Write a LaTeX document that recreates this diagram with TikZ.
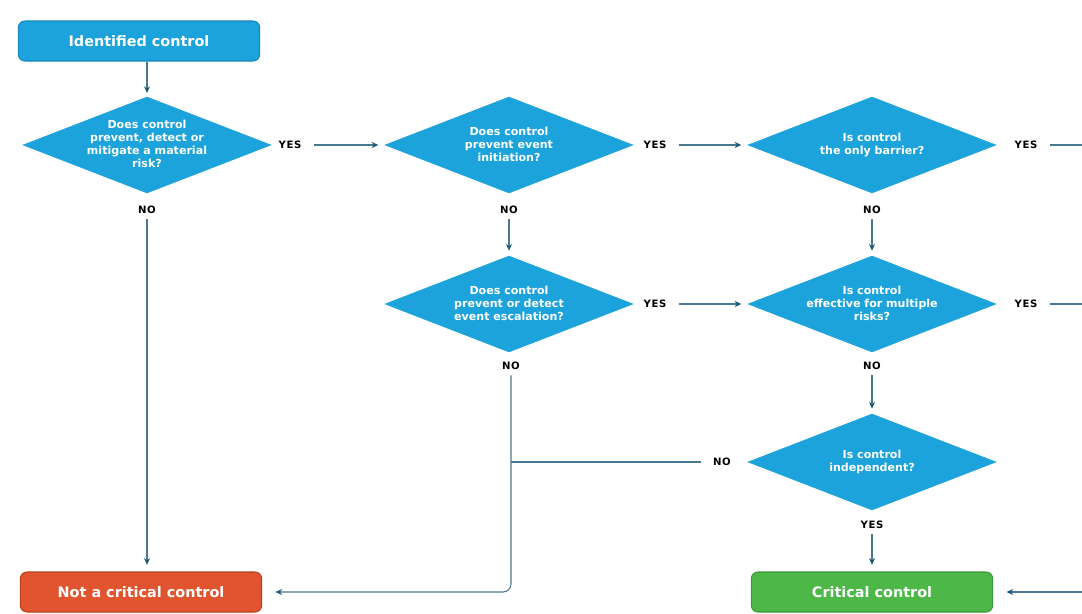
\documentclass[tikz,border=0pt]{standalone}
\usepackage{fontspec}
\setmainfont{DejaVu Sans}
\newfontfamily\lblfont[LetterSpace=6]{DejaVu Sans}
\usetikzlibrary{shapes.geometric,arrows.meta}
\definecolor{qblue}{HTML}{1CA3DC}
\definecolor{qblueD}{HTML}{1787BC}
\definecolor{qred}{HTML}{E0552F}
\definecolor{qredD}{HTML}{B9411F}
\definecolor{qgreen}{HTML}{4DB848}
\definecolor{qgreenD}{HTML}{3A9A37}
\definecolor{lineC}{HTML}{4A7891}
\definecolor{tipC}{HTML}{1E5A78}
\newcommand{\dtext}[1]{\makebox[0pt]{\smash{\raisebox{-2.5pt}{\begin{tabular}{@{}c@{}}#1\end{tabular}}}}}
\begin{document}
\begin{tikzpicture}[x=0.75pt,y=-0.75pt,
  dec/.style={diamond, fill=qblue, draw=qblue, line width=0.3pt, inner sep=0pt, outer sep=0pt,
    minimum width=186pt, minimum height=72pt, text=white,
    font=\bfseries\fontsize{8.3}{9.8}\selectfont},
  box/.style={rounded corners=5pt, minimum width=181pt, minimum height=30pt, text=white,
    font=\bfseries\fontsize{10.8}{12}\selectfont, line width=0.8pt},
  lbl/.style={font=\lblfont\bfseries\fontsize{7.6}{8}\selectfont, text=black, inner sep=1pt},
  conn/.style={draw=lineC, line width=0.8pt},
  arr/.style={conn, -{Stealth[length=5pt,width=4.5pt,color=tipC]}}]
\clip (0,0) rectangle (1082,614);
\fill[white] (0,0) rectangle (1082,614);
% nodes
\node[box, fill=qblue, draw=qblueD] (ic) at (139,41) {Identified control};
\node[dec] (d1) at (147,145) {\dtext{Does control\\prevent, detect or\\mitigate a material\\risk?}};
\node[dec] (d2) at (509,145) {\dtext{Does control\\prevent event\\initiation?}};
\node[dec] (d3) at (872,145) {\dtext{Is control\\the only barrier?}};
\node[dec] (d4) at (509,304) {\dtext{Does control\\prevent or detect\\event escalation?}};
\node[dec] (d5) at (872,304) {\dtext{Is control\\effective for multiple\\risks?}};
\node[dec] (d6) at (872,462) {\dtext{Is control\\independent?}};
\node[box, fill=qred, draw=qredD] (ncc) at (141,592) {Not a critical control};
\node[box, fill=qgreen, draw=qgreenD] (cc) at (872,592) {Critical control};
% labels
\node[lbl] (y1) at (290,145) {YES};
\node[lbl] (y2) at (655,145) {YES};
\node[lbl] (y3) at (1026,145) {YES};
\node[lbl] (y4) at (655,304) {YES};
\node[lbl] (y5) at (1026,304) {YES};
\node[lbl] (y6) at (872,525) {YES};
\node[lbl] (n1) at (147,210) {NO};
\node[lbl] (n2) at (509,210) {NO};
\node[lbl] (n3) at (872,210) {NO};
\node[lbl] (n4) at (511,366) {NO};
\node[lbl] (n5) at (872,366) {NO};
\node[lbl] (n6) at (722,462) {NO};
\coordinate (r1) at (1095,145);
\coordinate (r2) at (1095,304);
\coordinate (r3) at (1095,592);
% connectors
\draw[arr, shorten >=3pt] (ic.south -| d1.north) -- (d1.north);
\draw[arr, shorten <=8pt, shorten >=5pt] (y1.east) -- (d2.west);
\draw[arr, shorten <=8pt, shorten >=5pt] (y2.east) -- (d3.west);
\draw[arr, shorten <=8pt, shorten >=5pt] (y4.east) -- (d5.west);
\draw[conn, shorten <=8pt] (y3.east) -- (r1) -- (r3);
\draw[conn, shorten <=8pt] (y5.east) -- (r2);
\draw[arr, shorten >=10pt] (r3) -- (cc.east);
\draw[arr, shorten <=3pt, shorten >=5pt] (n1.south) -- (ncc.north -| n1.south);
\draw[arr, shorten <=3pt, shorten >=4pt] (n2.south) -- (d4.north);
\draw[arr, shorten <=3pt, shorten >=4pt] (n3.south) -- (d5.north);
\draw[arr, shorten <=3pt, shorten >=4pt] (n5.south) -- (d6.north);
\draw[arr, shorten <=3pt, shorten >=5pt] (y6.south) -- (cc.north);
\draw[arr, rounded corners=6pt, shorten <=3pt, shorten >=10pt] (n4.south) -- (n4.south |- ncc.east) -- (ncc.east);
\draw[conn, shorten <=8pt] (n6.west) -- (n6.west -| n4.south);
\end{tikzpicture}
\end{document}
